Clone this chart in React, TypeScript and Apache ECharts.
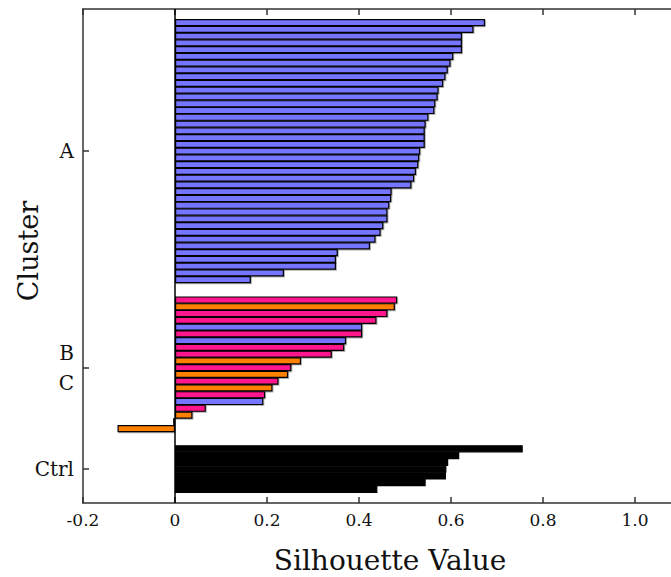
import React, { useEffect, useRef } from "react";
import * as echarts from "echarts";

// Silhouette values, sorted within each block (top to bottom)
const clusterA = [
  0.674, 0.649, 0.624, 0.624, 0.624, 0.605, 0.599, 0.593, 0.588, 0.583,
  0.573, 0.571, 0.566, 0.564, 0.551, 0.545, 0.543, 0.543, 0.543, 0.533,
  0.531, 0.529, 0.524, 0.52, 0.514, 0.471, 0.47, 0.466, 0.462, 0.462,
  0.453, 0.447, 0.436, 0.424, 0.354, 0.35, 0.35, 0.237, 0.165,
];

// Mixed block: value and the cluster each member was assigned to
const mixedValues = [
  0.483, 0.478, 0.462, 0.438, 0.407, 0.407, 0.372, 0.368, 0.341, 0.274,
  0.253, 0.246, 0.225, 0.212, 0.196, 0.192, 0.067, 0.038, -0.004, -0.125,
];
const mixedMembers = [
  "B", "C", "B", "B", "A", "B", "A", "B", "B", "C",
  "B", "C", "B", "C", "B", "A", "B", "C", "B", "C",
];

const clusterCtrl = [0.756, 0.618, 0.594, 0.59, 0.589, 0.545, 0.44];

const xTicks = [-0.2, 0, 0.2, 0.4, 0.6, 0.8, 1.0];

const clusterColors: Record<string, string> = {
  A: "#7474ff",
  B: "#ff178c",
  C: "#ff8000",
  Ctrl: "#000000",
};

// Row layout: blank rows pad the top, the gaps between blocks and the bottom
const PAD_TOP = 2;
const GAP = 2;
const PAD_BOTTOM = 2;

type Row = { value: number | string; cluster?: string };

function buildRows() {
  const rows: Row[] = [];
  const blank = (n: number) => {
    for (let i = 0; i < n; i++) rows.push({ value: "-" });
  };
  blank(PAD_TOP);
  const startA = rows.length;
  clusterA.forEach((v) => rows.push({ value: v, cluster: "A" }));
  const endA = rows.length - 1;
  blank(GAP);
  const startM = rows.length;
  mixedValues.forEach((v, i) => rows.push({ value: v, cluster: mixedMembers[i] }));
  const endM = rows.length - 1;
  blank(GAP);
  const startC = rows.length;
  clusterCtrl.forEach((v) => rows.push({ value: v, cluster: "Ctrl" }));
  const endC = rows.length - 1;
  blank(PAD_BOTTOM);

  const labels: string[] = rows.map(() => "");
  labels[Math.round((startA + endA) / 2)] = "A";
  labels[Math.ceil((startM + endM) / 2)] = "{bc|B\nC}";
  labels[Math.round((startC + endC) / 2)] = "Ctrl";
  return { rows, labels };
}

export default function App() {
  const ref = useRef<HTMLDivElement>(null);

  useEffect(() => {
    if (!ref.current) return;
    const chart = echarts.init(ref.current, undefined, { renderer: "svg" });
    const { rows, labels } = buildRows();
    const serif = "DejaVu Serif";

    const data = rows.map((r) => {
      if (r.cluster === undefined) return "-";
      const isCtrl = r.cluster === "Ctrl";
      return {
        value: r.value,
        itemStyle: {
          color: clusterColors[r.cluster],
          borderColor: "#000",
          borderWidth: 1.2,
          shadowColor: isCtrl ? "transparent" : "rgba(0,0,0,0.3)",
          shadowOffsetX: isCtrl ? 0 : 1,
          shadowOffsetY: isCtrl ? 0 : 1,
          shadowBlur: 0,
        },
      };
    });

    const showLabel = (i: number) => labels[i] !== "";
    const frame = { color: "#333", width: 1.5 };

    chart.setOption({
      animation: false,
      backgroundColor: "#fff",
      grid: { left: 83, top: 9, width: 644, height: 494 },
      xAxis: [
        {
          type: "value",
          min: -0.2,
          max: 1.2,
          interval: 0.2,
          position: "bottom",
          axisLine: { show: true, lineStyle: frame },
          axisTick: { show: true, inside: true, length: 6, lineStyle: frame },
          splitLine: { show: false },
          axisLabel: {
            margin: 8,
            color: "#111",
            fontFamily: serif,
            fontSize: 17,
            formatter: (v: number) => {
              const hit = xTicks.find((t) => Math.abs(t - v) < 1e-9);
              if (hit === undefined) return "";
              return hit === 0 ? "0" : hit.toFixed(1);
            },
          },
        },
        {
          type: "value",
          min: -0.2,
          max: 1.2,
          interval: 0.2,
          position: "top",
          axisLine: { show: true, lineStyle: frame },
          axisTick: { show: true, inside: true, length: 6, lineStyle: frame },
          axisLabel: { show: false },
          splitLine: { show: false },
        },
      ],
      yAxis: {
        type: "category",
        inverse: true,
        boundaryGap: false,
        data: labels,
        axisLine: { show: true, onZero: false, lineStyle: frame },
        axisTick: {
          show: true,
          inside: true,
          length: 6,
          interval: (i: number) => showLabel(i),
          lineStyle: frame,
        },
        axisLabel: {
          interval: (i: number) => showLabel(i),
          margin: 9,
          color: "#111",
          fontFamily: serif,
          fontSize: 20,
          rich: {
            bc: { fontFamily: serif, fontSize: 20, lineHeight: 30, color: "#111" },
          },
        },
        splitLine: { show: false },
      },
      graphic: [
        {
          type: "text",
          x: 28,
          y: 251,
          rotation: Math.PI / 2,
          style: {
            text: "Cluster",
            fontFamily: serif,
            fontSize: 27,
            fill: "#111",
            align: "center",
            verticalAlign: "middle",
          },
        },
        {
          type: "text",
          x: 390,
          y: 560,
          style: {
            text: "Silhouette Value",
            fontFamily: serif,
            fontSize: 28,
            fill: "#111",
            align: "center",
            verticalAlign: "middle",
          },
        },
      ],
      series: [
        {
          type: "bar",
          xAxisIndex: 0,
          data,
          // slightly wider than one row so neighbouring bars close up without seams
          barWidth: 7.2,
          markLine: {
            silent: true,
            symbol: "none",
            label: { show: false },
            lineStyle: { color: "#000", width: 1.5, type: "solid" },
            data: [{ xAxis: 0 }],
          },
        },
      ],
    });

    return () => chart.dispose();
  }, []);

  // The plot frame runs past the right edge of the view, so the chart
  // canvas is wider than its clipping wrapper.
  return (
    <div
      style={{
        position: "absolute",
        left: 0,
        top: 0,
        width: 671,
        height: 577,
        overflow: "hidden",
      }}
    >
      <div ref={ref} style={{ width: 760, height: 577 }} />
    </div>
  );
}
